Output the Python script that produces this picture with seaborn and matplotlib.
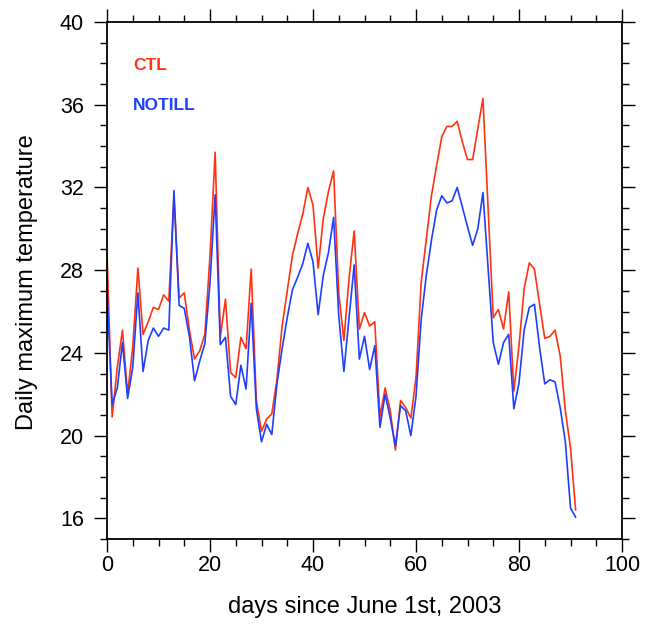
import matplotlib
matplotlib.use("Agg")
import numpy as np
import pandas as pd
import matplotlib.pyplot as plt
import seaborn as sns
from matplotlib.ticker import MultipleLocator, FixedLocator

days = list(range(92))
ctl = [28.8, 20.9, 23.3, 25.1, 22.0, 24.3, 28.1, 24.9, 25.5, 26.2,
       26.1, 26.8, 26.5, 31.6, 26.65, 26.9, 25.1, 23.7, 24.1, 24.9,
       28.7, 33.7, 24.75, 26.6, 23.05, 22.8, 24.75, 24.2, 28.05, 21.7,
       20.2, 20.8, 21.05, 22.7, 25.3, 27.0, 28.7, 29.75, 30.7, 32.0,
       31.15, 28.1, 30.5, 31.8, 32.8, 26.9, 24.6, 27.6, 29.9, 25.15,
       25.95, 25.3, 25.5, 20.9, 22.3, 21.2, 19.3, 21.7, 21.35, 20.85,
       22.8, 27.4, 29.5, 31.6, 33.05, 34.45, 34.95, 34.95, 35.2, 34.2,
       33.35, 33.35, 34.85, 36.3, 31.0, 25.7, 26.1, 25.15, 26.95, 22.15,
       24.35, 27.1, 28.35, 28.05, 26.35, 24.7, 24.8, 25.1, 23.85, 21.2,
       19.4, 16.4]
notill = [27.0, 21.5, 22.3, 24.5, 21.8, 23.3, 26.9, 23.1, 24.6, 25.2,
          24.8, 25.2, 25.1, 31.85, 26.3, 26.15, 24.8, 22.65, 23.6, 24.45,
          27.4, 31.65, 24.4, 24.75, 21.9, 21.5, 23.4, 22.25, 26.4, 21.3,
          19.7, 20.55, 20.05, 22.5, 24.2, 25.7, 27.05, 27.65, 28.3, 29.3,
          28.4, 25.85, 27.75, 28.85, 30.55, 25.8, 23.1, 25.7, 28.25, 23.7,
          24.8, 23.2, 24.35, 20.4, 22.0, 20.85, 19.5, 21.45, 21.2, 20.0,
          21.9, 25.6, 27.75, 29.45, 30.9, 31.6, 31.25, 31.35, 32.0, 31.05,
          30.1, 29.2, 30.0, 31.75, 28.1, 24.5, 23.45, 24.5, 24.9, 21.3,
          22.55, 25.1, 26.2, 26.35, 24.25, 22.5, 22.7, 22.6, 21.35, 19.7,
          16.5, 16.05]
series_names = ["CTL", "NOTILL"]
x_ticks = [0, 20, 40, 60, 80, 100]
y_ticks = [16, 20, 24, 28, 32, 36, 40]

sns.set_style("ticks")
plt.rcParams['font.family'] = ['Liberation Sans', 'DejaVu Sans']
plt.rcParams['text.color'] = 'black'
plt.rcParams['axes.labelcolor'] = 'black'
plt.rcParams['xtick.color'] = 'black'
plt.rcParams['ytick.color'] = 'black'

df = pd.DataFrame({
    "day": days * 2,
    "temp": ctl + notill,
    "run": [series_names[0]] * len(days) + [series_names[1]] * len(days),
})
colors = {"CTL": "#ff3310", "NOTILL": "#1f3fff"}

fig = plt.figure(figsize=(6.46, 6.25), dpi=100)
ax = fig.add_axes([107/646, 1-539/625, 515/646, 517/625])

sns.lineplot(data=df, x="day", y="temp", hue="run", palette=colors,
             linewidth=1.2, ax=ax, legend=False)

ax.set_xlim(0, 100)
ax.set_ylim(15, 40)
ax.xaxis.set_major_locator(FixedLocator(x_ticks))
ax.xaxis.set_minor_locator(MultipleLocator(5))
ax.yaxis.set_major_locator(FixedLocator(y_ticks))
ax.yaxis.set_minor_locator(MultipleLocator(1))
ax.tick_params(which="both", direction="out", top=True, right=True,
               color="black", labelcolor="black", width=1.0)
ax.tick_params(which="major", length=9.5, labelsize=15.5)
ax.tick_params(axis="y", which="major", pad=7)
ax.tick_params(axis="x", which="major", pad=2)
ax.tick_params(which="minor", length=5)
for s in ax.spines.values():
    s.set_linewidth(1.3)
    s.set_color("black")

ax.set_xlabel("days since June 1st, 2003", fontsize=17, color="black")
ax.set_ylabel("Daily maximum temperature", fontsize=17, color="black")
ax.xaxis.label.set_va("center")
ax.yaxis.label.set_va("center")
ax.xaxis.set_label_coords(0.5, (539 - 607) / 517)
ax.yaxis.set_label_coords((27 - 107) / 515, 0.496)

ax.text(5.0, 37.9, series_names[0], color=colors["CTL"], fontsize=12.5,
        fontweight="bold", va="center", ha="left")
ax.text(5.0, 35.97, series_names[1], color=colors["NOTILL"], fontsize=12.5,
        fontweight="bold", va="center", ha="left")

fig.savefig("out.png", dpi=100)
